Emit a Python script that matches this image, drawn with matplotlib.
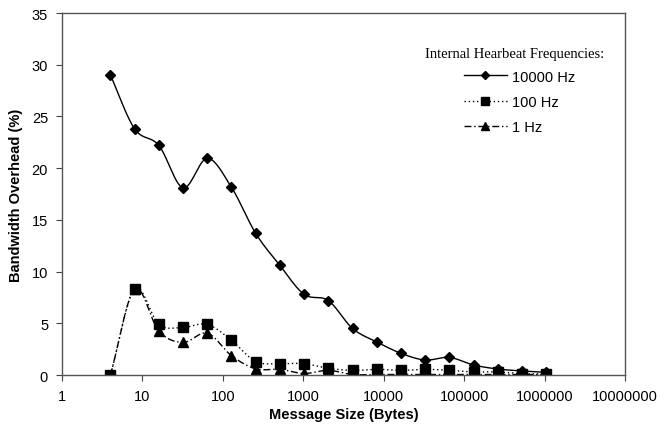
import numpy as np
import matplotlib
matplotlib.use("Agg")
import matplotlib.pyplot as plt

# message sizes (bytes) and bandwidth overhead (%)
sizes = [4, 8, 16, 32, 64, 128, 256, 512, 1024, 2048, 4096, 8192, 16384,
         32768, 65536, 131072, 262144, 524288, 1048576]
hz_10000 = [29.0, 23.8, 22.2, 18.1, 20.95, 18.15, 13.7, 10.6, 7.8, 7.2, 4.5,
            3.2, 2.1, 1.45, 1.7, 0.97, 0.58, 0.39, 0.26]
hz_100 = [0.0, 8.3, 4.9, 4.6, 4.9, 3.35, 1.3, 1.1, 1.1, 0.65, 0.45, 0.55,
          0.45, 0.55, 0.45, 0.3, 0.3, 0.13, 0.1]
hz_1 = [0.0, 8.3, 4.25, 3.15, 4.05, 1.87, 0.6, 0.55, 0.15, 0.45, 0.05, 0.05,
        0.05, 0.05, 0.05, 0.05, 0.05, 0.05, 0.05]

series = [("10000 Hz", hz_10000, "-", "D", 5.5),
          ("100 Hz", hz_100, (0, (1, 2)), "s", 6.5),
          ("1 Hz", hz_1, (0, (5, 2, 1, 2)), "^", 6.5)]

xticks = [1, 10, 100, 1000, 10000, 100000, 1000000, 10000000]
yticks = [0, 5, 10, 15, 20, 25, 30, 35]


def smooth(xs, ys, n=20):
    # Catmull-Rom in log-x space, like the spreadsheet's smoothed line
    lx = np.log10(np.array(xs, float))
    y = np.array(ys, float)
    px = np.concatenate([[2 * lx[0] - lx[1]], lx, [2 * lx[-1] - lx[-2]]])
    py = np.concatenate([[2 * y[0] - y[1]], y, [2 * y[-1] - y[-2]]])
    outx, outy = [], []
    t = np.linspace(0, 1, n, endpoint=False)
    for i in range(1, len(px) - 2):
        for p, out in ((px, outx), (py, outy)):
            p0, p1, p2, p3 = p[i - 1], p[i], p[i + 1], p[i + 2]
            out.extend(0.5 * (2 * p1 + (-p0 + p2) * t
                              + (2 * p0 - 5 * p1 + 4 * p2 - p3) * t ** 2
                              + (-p0 + 3 * p1 - 3 * p2 + p3) * t ** 3))
    outx.append(lx[-1])
    outy.append(y[-1])
    return 10 ** np.array(outx), np.array(outy)


fig = plt.figure(figsize=(6.71, 4.27), dpi=100)
ax = fig.add_axes([0.0924, 0.1194, 0.839, 0.8478])

handles = []
for label, vals, ls, mk, ms in series:
    sx, sy = smooth(sizes, vals)
    ax.plot(sx, sy, color="black", linestyle=ls, linewidth=1.0)
    ax.plot(sizes, vals, linestyle="none", marker=mk, markersize=ms,
            color="black")
    h, = ax.plot([], [], color="black", linestyle=ls, linewidth=1.0,
                 marker=mk, markersize=ms - 1, label=label)
    handles.append(h)

ax.set_xscale("log")
ax.set_xlim(1, 10000000)
ax.set_ylim(0, 35)
ax.set_xticks(xticks)
ax.set_xticklabels([str(v) for v in xticks])
ax.minorticks_off()
ax.set_yticks(yticks)
ax.tick_params(direction="out", length=4, width=0.8, color="#444444",
               labelsize=10.5, pad=6)
for lab in ax.get_xticklabels() + ax.get_yticklabels():
    lab.set_family("Liberation Sans")
for s in ax.spines.values():
    s.set_color("#555555")
    s.set_linewidth(1.0)

ax.set_xlabel("Message Size (Bytes)", fontsize=10.5, fontweight="bold",
              family="Liberation Sans", labelpad=3)
ax.set_ylabel("Bandwidth Overhead (%)", fontsize=10.5, fontweight="bold",
              family="Liberation Sans", labelpad=6)

ax.text(0.645, 0.887, "Internal Hearbeat Frequencies:", transform=ax.transAxes,
        family="Liberation Serif", fontsize=10.5, va="center")
ax.legend(handles=handles, loc="upper left", bbox_to_anchor=(0.69, 0.88),
          frameon=False, handlelength=3.0, numpoints=1, labelspacing=0.77,
          handletextpad=0.35, prop={"family": "Liberation Sans", "size": 10.5})

fig.savefig("out.png", dpi=100)
